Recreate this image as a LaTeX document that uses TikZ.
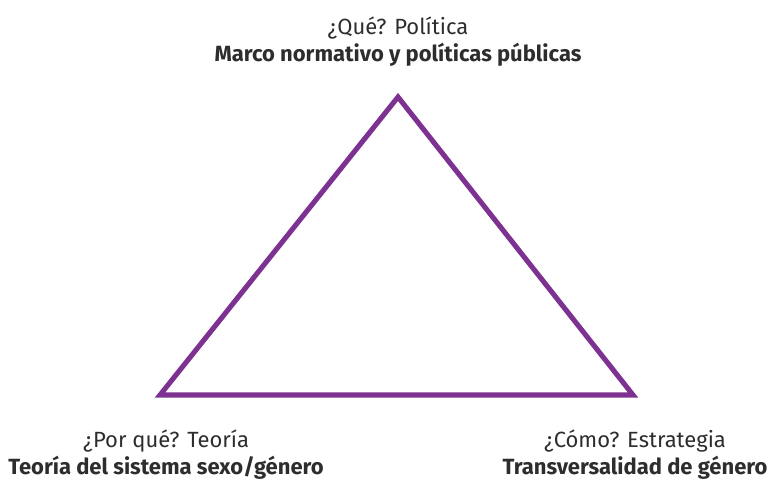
\documentclass[tikz,border=0pt]{standalone}
\usepackage{fontspec}
\setmainfont{Fira Sans}
\definecolor{EdgeColor}{RGB}{125,50,145}
\definecolor{TextColor}{RGB}{45,45,45}
\usetikzlibrary{positioning}
\tikzset{
  side/.style={line width=3.8pt, EdgeColor, line join=miter},
  label/.style={align=center, text=TextColor, font=\fontsize{16.5}{20.3}\selectfont, inner sep=0pt}
}
\begin{document}
\begin{tikzpicture}[x=0.75pt,y=-0.75pt]
  \useasboundingbox (0,0) rectangle (770,480);

  % vertices
  \coordinate (top) at (398,97);
  \coordinate (left) at (160,395);
  \coordinate (right) at (633,395);

  % triangle
  \draw[side] (top) -- (right) -- (left) -- cycle;

  % labels
  \node[label] (what) at (398,42) {¿Qué? Política\\\textbf{Marco normativo y políticas públicas}};
  \node[label] (why) at (166,455) {¿Por qué? Teoría\\\textbf{Teoría del sistema sexo/género}};
  \node[label] (how) at (635,455) {¿Cómo? Estrategia\\\textbf{Transversalidad de género}};
\end{tikzpicture}
\end{document}
